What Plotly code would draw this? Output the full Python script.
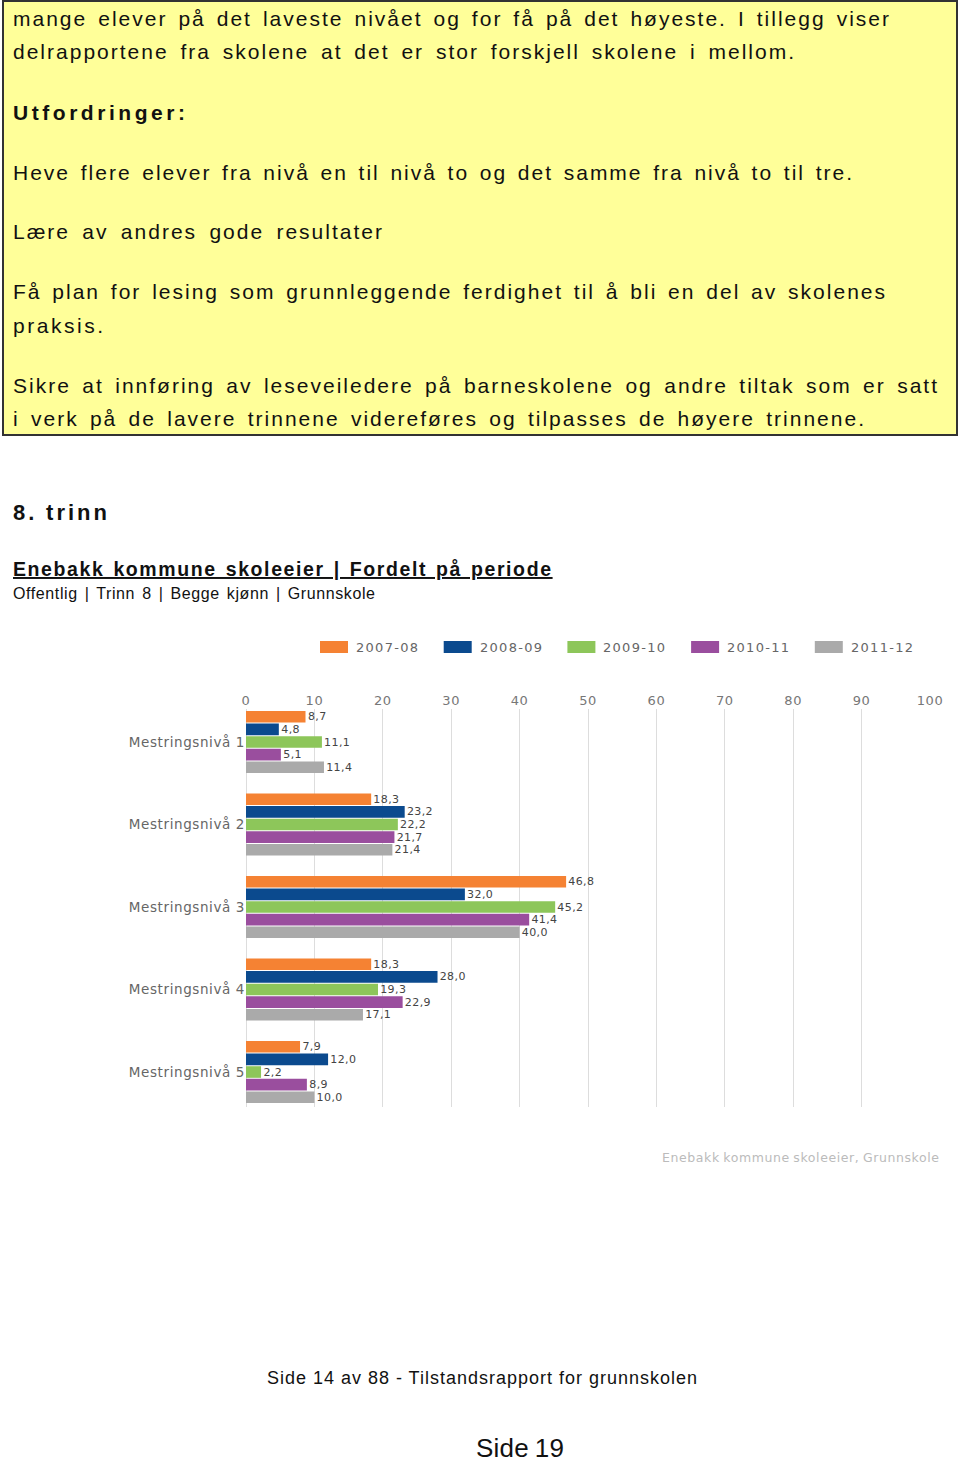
import json
import plotly.graph_objects as go

W, H = 960, 1462


def px(x):
    return x / W


def py(y):
    return 1 - y / H


# ---------------- data ----------------
categories = ["Mestringsnivå 1", "Mestringsnivå 2", "Mestringsnivå 3",
              "Mestringsnivå 4", "Mestringsnivå 5"]
periods = ["2007-08", "2008-09", "2009-10", "2010-11", "2011-12"]
colors = ["#F58233", "#0B4A8E", "#8DC65A", "#9A4E9E", "#AAAAAA"]
v2007_08 = [8.7, 18.3, 46.8, 18.3, 7.9]
v2008_09 = [4.8, 23.2, 32.0, 28.0, 12.0]
v2009_10 = [11.1, 22.2, 45.2, 19.3, 2.2]
v2010_11 = [5.1, 21.7, 41.4, 22.9, 8.9]
v2011_12 = [11.4, 21.4, 40.0, 17.1, 10.0]
series = [v2007_08, v2008_09, v2009_10, v2010_11, v2011_12]
x_ticks = [0, 10, 20, 30, 40, 50, 60, 70, 80, 90, 100]

# (text, y centre, bold, target width)
box_lines = [
    ("mange elever på det laveste nivået og for få på det høyeste. I tillegg viser", 18, False, 876),
    ("delrapportene fra skolene at det er stor forskjell skolene i mellom.", 52, False, 781),
    ("Utfordringer:", 112, True, 172),
    ("Heve flere elever fra nivå en til nivå to og det samme fra nivå to til tre.", 172, False, 839),
    ("Lære av andres gode resultater", 232, False, 369),
    ("Få plan for lesing som grunnleggende ferdighet til å bli en del av skolenes", 292, False, 872),
    ("praksis.", 325, False, 90),
    ("Sikre at innføring av leseveiledere på barneskolene og andre tiltak som er satt", 385, False, 924),
    ("i verk på de lavere trinnene videreføres og tilpasses de høyere trinnene.", 418, False, 851),
]

fig = go.Figure()
for name, vals, col in zip(periods, series, colors):
    fig.add_trace(go.Bar(
        y=categories, x=vals, name=name, orientation="h",
        marker=dict(color=col, line=dict(width=0)),
        texttemplate="%{x:.1f}", textposition="outside",
        textfont=dict(family="DejaVu Sans", size=11, color="#444444"),
        constraintext="none", cliponaxis=False, showlegend=False,
    ))

shapes = []
annotations = []
targets = {}

# yellow box
shapes.append(dict(type="rect", xref="paper", yref="paper",
                   x0=px(3), x1=px(957), y0=py(435), y1=py(1),
                   fillcolor="#FFFF99", line=dict(color="#333333", width=2),
                   layer="below"))

body_font = "Liberation Sans, Arial, sans-serif"


def add_text(txt, x, y, size, family=body_font, color="#111111", bold=False,
             underline=False, anchor="left", target=None, ls=1.5):
    t = txt
    if underline:
        t = f"<u>{t}</u>"
    if bold:
        t = f"<b>{t}</b>"
    annotations.append(dict(text=t, x=px(x), y=py(y), xref="paper", yref="paper",
                            xanchor=anchor, yanchor="middle", align=anchor,
                            showarrow=False,
                            font=dict(family=family, size=size, color=color)))
    if target:
        targets[txt] = [target, ls]


for txt, y, bold, tw in box_lines:
    add_text(txt, 11, y, 21, bold=bold, target=tw, ls=2.0)

add_text("8. trinn", 11, 512, 22, bold=True, target=94, ls=3.0)
add_text("Enebakk kommune skoleeier | Fordelt på periode", 11, 569, 19.5,
         bold=True, underline=True, target=538, ls=1.6)
add_text("Offentlig | Trinn 8 | Begge kjønn | Grunnskole", 11, 593, 16, target=362, ls=0.6)

# legend (manual)
for i, (name, col) in enumerate(zip(periods, colors)):
    x0 = 320 + i * 123.7
    shapes.append(dict(type="rect", xref="paper", yref="paper",
                       x0=px(x0), x1=px(x0 + 28), y0=py(653), y1=py(641),
                       fillcolor=col, line=dict(width=0)))
    add_text(name, x0 + 34, 647, 13, family="DejaVu Sans", color="#666666", target=62)

add_text("Enebakk kommune skoleeier, Grunnskole", 942, 1157, 12.5,
         family="DejaVu Sans", color="#BBBBBB", anchor="right", target=277, ls=0.6)
add_text("Side 14 av 88 - Tilstandsrapport for grunnskolen", 265, 1378, 18, target=430, ls=1.0)
add_text("Side 19", 474, 1448, 26, target=88, ls=0.2)

fig.update_layout(
    width=W, height=H, margin=dict(l=0, r=0, t=0, b=0, autoexpand=False),
    paper_bgcolor="white", plot_bgcolor="white",
    barmode="group", bargap=0.236, bargroupgap=0.08,
    separators=", ",
    shapes=shapes, annotations=annotations,
    xaxis=dict(domain=[px(246), px(930)], range=[0, 100], side="top",
               tickvals=x_ticks, showgrid=True, gridcolor="#DDDDDD", gridwidth=1,
               zeroline=True, zerolinecolor="#DDDDDD", zerolinewidth=1,
               showline=False, ticks="", automargin=False,
               tickfont=dict(family="DejaVu Sans", size=13, color="#777777")),
    yaxis=dict(domain=[py(1107), py(709)], range=[4.424, -0.4],
               showgrid=False, zeroline=False, showline=False, ticks="", automargin=False,
               tickfont=dict(family="DejaVu Sans", size=13.5, color="#666666")),
)

post = """
document.documentElement.style.margin = '0';
document.documentElement.style.overflow = 'hidden';
document.body.style.margin = '0';
document.body.style.overflow = 'hidden';
var targets = %s;
document.querySelectorAll('text.annotation-text').forEach(function (t) {
  var s = t.textContent;
  var spec = targets[s];
  if (!spec) return;
  var target = spec[0], ls = spec[1];
  var w = t.getComputedTextLength();
  var E = target - w;
  var n = s.length;
  var nsp = (s.match(/ /g) || []).length;
  if (nsp === 0) {
    t.style.letterSpacing = (E / Math.max(n - 1, 1)) + 'px';
    return;
  }
  var ws = (E - ls * (n - 1)) / nsp;
  t.style.letterSpacing = ls + 'px';
  t.style.wordSpacing = ws + 'px';
  var w2 = t.getBBox().width;
  if (Math.abs(w2 - target) > 12) {
    t.style.wordSpacing = '0px';
    t.style.letterSpacing = (E / Math.max(n - 1, 1)) + 'px';
  }
});
document.querySelectorAll('g.ytick text').forEach(function (t) { t.style.letterSpacing = '0.6px'; });
document.querySelectorAll('g.xtick text').forEach(function (t) { t.style.letterSpacing = '0.6px'; });
document.querySelectorAll('text.bartext').forEach(function (t) { t.style.letterSpacing = '0.4px'; });
""" % json.dumps(targets, ensure_ascii=False)

fig.write_html("out.html", post_script=post, config={"displayModeBar": False})
